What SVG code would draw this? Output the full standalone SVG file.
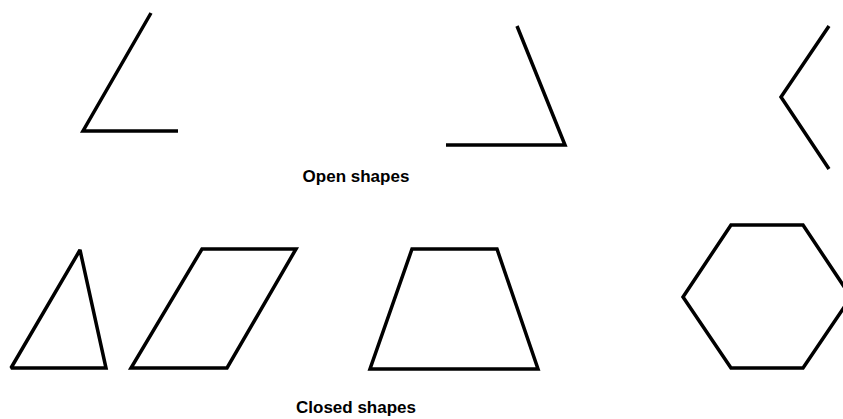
<svg xmlns="http://www.w3.org/2000/svg" width="843" height="419" viewBox="0 0 843 419">
<style>
.s{fill:none;stroke:#000;stroke-width:3.5;stroke-linejoin:miter}
.t{font-family:"Liberation Sans",Arial,sans-serif;font-weight:bold;font-size:17px;fill:#000;text-anchor:middle}
</style>
<rect width="843" height="419" fill="#fff"/>
<g id="open1"><polyline class="s" points="151,13 83,131 178,131"/></g>
<g id="open2"><polyline class="s" points="517,26 565,145 446,145"/></g>
<g id="open3"><polyline class="s" points="829,26 781,97 829,169"/></g>
<g id="label-open"><text class="t" x="356" y="182">Open shapes</text></g>
<g id="triangle"><polygon class="s" style="stroke-miterlimit:2" points="80,250 11,368 106,368"/></g>
<g id="parallelogram"><polygon class="s" points="202,249 296,249 227,368 131,368"/></g>
<g id="trapezoid"><polygon class="s" points="412,249 497,249 538,369 370,369"/></g>
<g id="hexagon"><polygon class="s" points="731,225 803,225 851,297 803,368 731,368 683,297"/></g>
<g id="label-closed"><text class="t" x="356" y="413">Closed shapes</text></g>
<g id="connectors"/>
</svg>
